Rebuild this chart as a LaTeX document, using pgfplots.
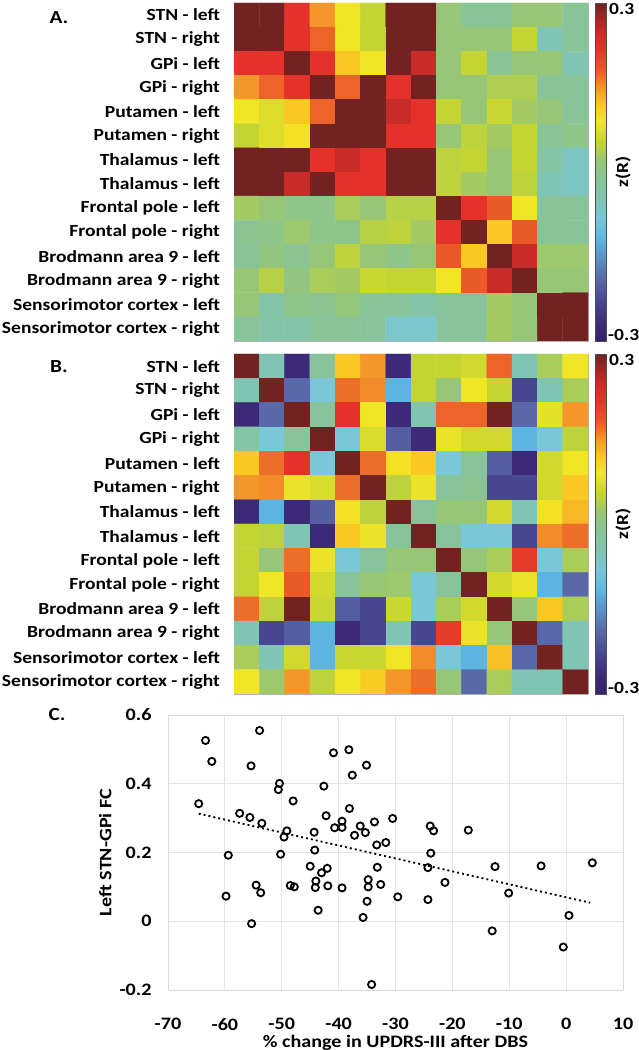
\documentclass[border=0pt]{standalone}
\usepackage{pgfplots}
\pgfplotsset{compat=1.18}
\usepackage{graphicx}
\usepackage{fontspec}
\setmainfont{Carlito}
\newcommand\sx[1]{\scalebox{1.15}[1]{#1}}
\newcommand\lbl{\fontsize{17bp}{20bp}\selectfont\bfseries}
\newcommand\tkl{\fontsize{17.5bp}{20bp}\selectfont\bfseries}
\pgfplotsset{
  colormap={zr}{rgb255(0pt)=(52,34,108) rgb255(30pt)=(60,42,120) rgb255(70pt)=(72,70,145)
    rgb255(110pt)=(88,104,168) rgb255(180pt)=(92,180,225) rgb255(220pt)=(120,200,215)
    rgb255(250pt)=(128,196,180) rgb255(285pt)=(136,196,152) rgb255(320pt)=(150,198,118)
    rgb255(355pt)=(196,212,50) rgb255(390pt)=(240,230,38) rgb255(420pt)=(250,200,34)
    rgb255(450pt)=(244,150,42) rgb255(480pt)=(234,90,40) rgb255(520pt)=(228,50,42)
    rgb255(550pt)=(200,44,40) rgb255(600pt)=(114,34,32)},
  hm/.style={
    scale only axis, width=354bp, anchor=south west,
    xmin=-0.5, xmax=13.5, ymin=-0.5, ymax=13.5, y dir=reverse,
    xtick=\empty, ytick={0,...,13},
    yticklabels={\sx{STN - left}, \sx{STN - right}, \sx{GPi - left}, \sx{GPi - right}, \sx{Putamen - left}, \sx{Putamen - right}, \sx{Thalamus - left}, \sx{Thalamus - left}, \sx{Frontal pole - left}, \sx{Frontal pole - right}, \sx{Brodmann area 9 - left}, \sx{Brodmann area 9 - right}, \sx{Sensorimotor cortex - left}, \sx{Sensorimotor cortex - right}},
    major tick length=0pt, tick align=inside,
    extra x ticks={1,3,...,13}, extra x tick labels={},
    extra y ticks={1,3,...,13}, extra y tick labels={},
    extra x tick style={major tick length=3bp},
    extra y tick style={major tick length=3bp},
    tick style={black, line width=0.5bp},
    axis line style={gray!60, line width=0.6bp},
    yticklabel style={font=\lbl, xshift=-10.5bp},
    colormap name=zr, point meta min=-0.3, point meta max=0.3,
    colorbar,
    colorbar style={scale only axis, width=11bp,
      at={(parent axis.north east)}, anchor=north west, xshift=-1.5bp,
      ytick=\empty, axis line style={black!70, line width=0.5bp},
      extra description/.code={
        \node[anchor=north west, inner sep=0pt, font=\lbl] at ([xshift=3bp]rel axis cs:1,1) {\sx{0.3}};
        \node[anchor=south west, inner sep=0pt, font=\lbl] at ([xshift=2bp]rel axis cs:1,0) {\sx{-0.3}};
        \node[rotate=90, inner sep=0pt, font=\lbl] at ([xshift=17bp]rel axis cs:1,0.5) {\sx{z(R)}};
      }},
  },
  mp/.style={matrix plot*, mesh/cols=14, point meta=explicit},
}
\begin{document}
\begin{tikzpicture}
\useasboundingbox (0,0) rectangle (639bp,1050bp);
% ---------------- A ----------------
\begin{axis}[hm, at={(234bp,709bp)}, height=338bp]
\addplot[mp] coordinates {
(0,0)[0.3] (1,0)[0.3] (2,0)[0.22] (3,0)[0.15] (4,0)[0.09] (5,0)[0.055] (6,0)[0.3] (7,0)[0.3] (8,0)[0.02] (9,0)[-0.015] (10,0)[-0.015] (11,0)[0.02] (12,0)[0.02] (13,0)[-0.015]
(0,1)[0.3] (1,1)[0.3] (2,1)[0.22] (3,1)[0.175] (4,1)[0.09] (5,1)[0.055] (6,1)[0.3] (7,1)[0.3] (8,1)[0.02] (9,1)[0.02] (10,1)[0.02] (11,1)[0.055] (12,1)[-0.05] (13,1)[-0.015]
(0,2)[0.22] (1,2)[0.22] (2,2)[0.3] (3,2)[0.22] (4,2)[0.12] (5,2)[0.09] (6,2)[0.3] (7,2)[0.25] (8,2)[0.02] (9,2)[0.055] (10,2)[-0.015] (11,2)[0.02] (12,2)[0.02] (13,2)[-0.05]
(0,3)[0.15] (1,3)[0.175] (2,3)[0.22] (3,3)[0.3] (4,3)[0.175] (5,3)[0.3] (6,3)[0.22] (7,3)[0.3] (8,3)[0.02] (9,3)[0.02] (10,3)[0.04] (11,3)[0.04] (12,3)[-0.015] (13,3)[-0.015]
(0,4)[0.09] (1,4)[0.075] (2,4)[0.12] (3,4)[0.175] (4,4)[0.3] (5,4)[0.3] (6,4)[0.25] (7,4)[0.22] (8,4)[0.055] (9,4)[0.02] (10,4)[0.06] (11,4)[0.03] (12,4)[0.02] (13,4)[-0.015]
(0,5)[0.055] (1,5)[0.075] (2,5)[0.095] (3,5)[0.3] (4,5)[0.3] (5,5)[0.3] (6,5)[0.22] (7,5)[0.22] (8,5)[0.02] (9,5)[0.05] (10,5)[0.03] (11,5)[0.055] (12,5)[-0.015] (13,5)[0.0]
(0,6)[0.3] (1,6)[0.3] (2,6)[0.3] (3,6)[0.22] (4,6)[0.25] (5,6)[0.22] (6,6)[0.3] (7,6)[0.3] (8,6)[0.05] (9,6)[0.055] (10,6)[0.02] (11,6)[0.055] (12,6)[-0.03] (13,6)[-0.06]
(0,7)[0.3] (1,7)[0.3] (2,7)[0.25] (3,7)[0.3] (4,7)[0.22] (5,7)[0.22] (6,7)[0.3] (7,7)[0.3] (8,7)[0.05] (9,7)[0.03] (10,7)[0.02] (11,7)[0.05] (12,7)[-0.05] (13,7)[-0.06]
(0,8)[0.03] (1,8)[0.02] (2,8)[0.0] (3,8)[0.0] (4,8)[0.035] (5,8)[0.02] (6,8)[0.045] (7,8)[0.045] (8,8)[0.3] (9,8)[0.22] (10,8)[0.18] (11,8)[0.09] (12,8)[-0.015] (13,8)[-0.015]
(0,9)[-0.01] (1,9)[0.0] (2,9)[0.025] (3,9)[0.0] (4,9)[0.0] (5,9)[0.045] (6,9)[0.05] (7,9)[0.03] (8,9)[0.22] (9,9)[0.3] (10,9)[0.12] (11,9)[0.18] (12,9)[-0.015] (13,9)[-0.015]
(0,10)[-0.015] (1,10)[0.01] (2,10)[-0.01] (3,10)[0.02] (4,10)[0.05] (5,10)[0.02] (6,10)[0.0] (7,10)[0.02] (8,10)[0.18] (9,10)[0.12] (10,10)[0.3] (11,10)[0.25] (12,10)[0.025] (13,10)[0.025]
(0,11)[0.02] (1,11)[0.045] (2,11)[0.01] (3,11)[0.035] (4,11)[0.03] (5,11)[0.06] (6,11)[0.055] (7,11)[0.055] (8,11)[0.09] (9,11)[0.18] (10,11)[0.25] (11,11)[0.3] (12,11)[0.02] (13,11)[0.02]
(0,12)[0.02] (1,12)[-0.035] (2,12)[0.0] (3,12)[-0.01] (4,12)[0.015] (5,12)[-0.015] (6,12)[-0.02] (7,12)[-0.035] (8,12)[-0.02] (9,12)[-0.02] (10,12)[0.03] (11,12)[0.02] (12,12)[0.3] (13,12)[0.3]
(0,13)[-0.02] (1,13)[-0.035] (2,13)[-0.035] (3,13)[-0.015] (4,13)[-0.015] (5,13)[-0.02] (6,13)[-0.07] (7,13)[-0.07] (8,13)[-0.02] (9,13)[-0.02] (10,13)[0.03] (11,13)[0.02] (12,13)[0.3] (13,13)[0.3]
};
\end{axis}
% ---------------- B ----------------
\begin{axis}[hm, at={(234bp,356bp)}, height=340bp]
\addplot[mp] coordinates {
(0,0)[0.3] (1,0)[-0.05] (2,0)[-0.27] (3,0)[-0.02] (4,0)[0.12] (5,0)[0.15] (6,0)[-0.27] (7,0)[0.055] (8,0)[0.055] (9,0)[0.065] (10,0)[0.175] (11,0)[-0.05] (12,0)[0.035] (13,0)[0.09]
(0,1)[-0.05] (1,1)[0.3] (2,1)[-0.19] (3,1)[-0.08] (4,1)[0.17] (5,1)[0.155] (6,1)[-0.12] (7,1)[0.055] (8,1)[0.02] (9,1)[0.09] (10,1)[0.055] (11,1)[-0.23] (12,1)[-0.05] (13,1)[0.035]
(0,2)[-0.27] (1,2)[-0.19] (2,2)[0.3] (3,2)[-0.02] (4,2)[0.22] (5,2)[0.09] (6,2)[-0.27] (7,2)[-0.045] (8,2)[0.175] (9,2)[0.175] (10,2)[0.3] (11,2)[-0.19] (12,2)[0.08] (13,2)[0.15]
(0,3)[-0.03] (1,3)[-0.08] (2,3)[-0.02] (3,3)[0.3] (4,3)[-0.08] (5,3)[0.07] (6,3)[-0.2] (7,3)[-0.27] (8,3)[0.085] (9,3)[0.065] (10,3)[0.065] (11,3)[-0.12] (12,3)[-0.08] (13,3)[0.05]
(0,4)[0.12] (1,4)[0.17] (2,4)[0.22] (3,4)[-0.08] (4,4)[0.3] (5,4)[0.17] (6,4)[0.095] (7,4)[0.12] (8,4)[-0.08] (9,4)[-0.02] (10,4)[-0.2] (11,4)[-0.27] (12,4)[0.065] (13,4)[0.09]
(0,5)[0.15] (1,5)[0.155] (2,5)[0.085] (3,5)[0.07] (4,5)[0.17] (5,5)[0.3] (6,5)[0.05] (7,5)[0.085] (8,5)[-0.02] (9,5)[-0.01] (10,5)[-0.23] (11,5)[-0.23] (12,5)[0.065] (13,5)[0.12]
(0,6)[-0.27] (1,6)[-0.12] (2,6)[-0.27] (3,6)[-0.2] (4,6)[0.095] (5,6)[0.05] (6,6)[0.3] (7,6)[-0.02] (8,6)[0.02] (9,6)[0.02] (10,6)[0.065] (11,6)[-0.05] (12,6)[0.095] (13,6)[0.13]
(0,7)[0.055] (1,7)[0.05] (2,7)[-0.05] (3,7)[-0.27] (4,7)[0.12] (5,7)[0.085] (6,7)[-0.02] (7,7)[0.3] (8,7)[-0.02] (9,7)[-0.08] (10,7)[-0.08] (11,7)[-0.23] (12,7)[0.155] (13,7)[0.17]
(0,8)[0.055] (1,8)[0.02] (2,8)[0.17] (3,8)[0.085] (4,8)[-0.08] (5,8)[-0.02] (6,8)[0.02] (7,8)[0.02] (8,8)[0.3] (9,8)[0.02] (10,8)[0.035] (11,8)[0.21] (12,8)[-0.08] (13,8)[0.035]
(0,9)[0.055] (1,9)[0.09] (2,9)[0.18] (3,9)[0.065] (4,9)[-0.02] (5,9)[0.02] (6,9)[0.025] (7,9)[-0.08] (8,9)[-0.02] (9,9)[0.3] (10,9)[0.065] (11,9)[0.085] (12,9)[-0.12] (13,9)[-0.19]
(0,10)[0.17] (1,10)[0.05] (2,10)[0.3] (3,10)[0.06] (4,10)[-0.2] (5,10)[-0.23] (6,10)[0.06] (7,10)[-0.08] (8,10)[0.035] (9,10)[0.065] (10,10)[0.3] (11,10)[0.02] (12,10)[0.12] (13,10)[0.035]
(0,11)[-0.05] (1,11)[-0.23] (2,11)[-0.2] (3,11)[-0.12] (4,11)[-0.27] (5,11)[-0.23] (6,11)[-0.05] (7,11)[-0.23] (8,11)[0.21] (9,11)[0.085] (10,11)[0.02] (11,11)[0.3] (12,11)[-0.19] (13,11)[-0.05]
(0,12)[0.035] (1,12)[-0.05] (2,12)[0.065] (3,12)[-0.12] (4,12)[0.06] (5,12)[0.06] (6,12)[0.09] (7,12)[0.155] (8,12)[-0.08] (9,12)[-0.12] (10,12)[0.125] (11,12)[-0.19] (12,12)[0.3] (13,12)[-0.05]
(0,13)[0.09] (1,13)[0.025] (2,13)[0.15] (3,13)[0.05] (4,13)[0.09] (5,13)[0.115] (6,13)[0.15] (7,13)[0.17] (8,13)[0.02] (9,13)[-0.19] (10,13)[0.035] (11,13)[-0.05] (12,13)[-0.05] (13,13)[0.3]
};
\end{axis}
% ---------------- C ----------------
\begin{axis}[at={(168bp,60bp)}, anchor=south west, scale only axis, width=455bp, height=275bp,
  xmin=-70, xmax=10, ymin=-0.2, ymax=0.6,
  xtick={-70,-60,-50,-40,-30,-20,-10,0,10}, ytick={-0.2,0,0.2,0.4,0.6},
  grid=major, grid style={black!10, line width=0.8bp},
  axis line style={black!15, line width=0.8bp}, major tick length=0pt,
  ticklabel style={font=\tkl},
  /pgf/number format/assume math mode=true,
  xticklabel={\sx{\pgfmathprintnumber{\tick}}},
  yticklabel={\sx{\pgfmathprintnumber{\tick}}},
  yticklabel style={xshift=-13bp, /pgf/number format/fixed, /pgf/number format/precision=1},
  xticklabel style={inner sep=0pt, anchor=north, yshift=-28bp},
  xlabel={\sx{\% change in UPDRS-III after DBS}}, ylabel={\sx{Left STN-GPi FC}},
  xlabel style={font=\tkl, inner sep=0pt, at={(axis description cs:0.5,-0.1636)}, anchor=north},
  ylabel style={font=\tkl, at={(axis description cs:-0.138,0.5)}, anchor=center},
  clip=false]
\addplot[black, line width=1.8bp, dash pattern=on 2bp off 3bp] coordinates {(-64.6,0.313) (4.2,0.054)};
\addplot[only marks, mark=o, mark size=3.6bp, mark options={line width=1.8bp, black}] coordinates {
(-64.6,0.342) (-63.4,0.526) (-62.3,0.465) (-53.9,0.555) (-55.4,0.452) (-50.4,0.401) (-50.6,0.383)
(-48.0,0.350) (-42.6,0.393) (-40.9,0.490) (-38.2,0.499) (-37.6,0.425) (-35.1,0.454) (-38.1,0.328)
(-57.4,0.314) (-55.6,0.302) (-53.5,0.285) (-49.1,0.263) (-49.6,0.245) (-44.3,0.259) (-42.2,0.307)
(-40.7,0.272) (-39.4,0.291) (-39.4,0.273) (-37.2,0.250) (-36.2,0.277) (-35.3,0.258) (-33.7,0.289)
(-30.5,0.299) (-33.3,0.222) (-31.7,0.229) (-23.9,0.277) (-23.3,0.263) (-17.2,0.265) (-59.4,0.192)
(-50.2,0.195) (-44.2,0.207) (-23.8,0.198) (-45.0,0.160) (-42.0,0.154) (-43.0,0.141) (-33.2,0.157)
(-24.3,0.156) (-12.5,0.159) (-4.4,0.161) (4.6,0.170) (-54.5,0.105) (-53.7,0.083) (-59.8,0.073)
(-48.5,0.104) (-47.8,0.100) (-44.0,0.117) (-44.1,0.098) (-41.9,0.103) (-39.4,0.097) (-34.8,0.121)
(-34.8,0.100) (-32.6,0.107) (-29.6,0.071) (-35.0,0.058) (-24.3,0.063) (-21.3,0.113) (-10.1,0.082)
(-43.6,0.032) (-35.7,0.011) (-55.3,-0.007) (0.5,0.017) (-13.0,-0.028) (-0.5,-0.075) (-34.2,-0.184)
};
\end{axis}
\node[font=\fontsize{18.5bp}{22bp}\selectfont\bfseries] at (59bp,1032bp) {\sx{A.}};
\node[font=\fontsize{18.5bp}{22bp}\selectfont\bfseries] at (59bp,683bp) {\sx{B.}};
\node[font=\fontsize{18.5bp}{22bp}\selectfont\bfseries] at (57bp,335bp) {\sx{C.}};
\end{tikzpicture}
\end{document}
